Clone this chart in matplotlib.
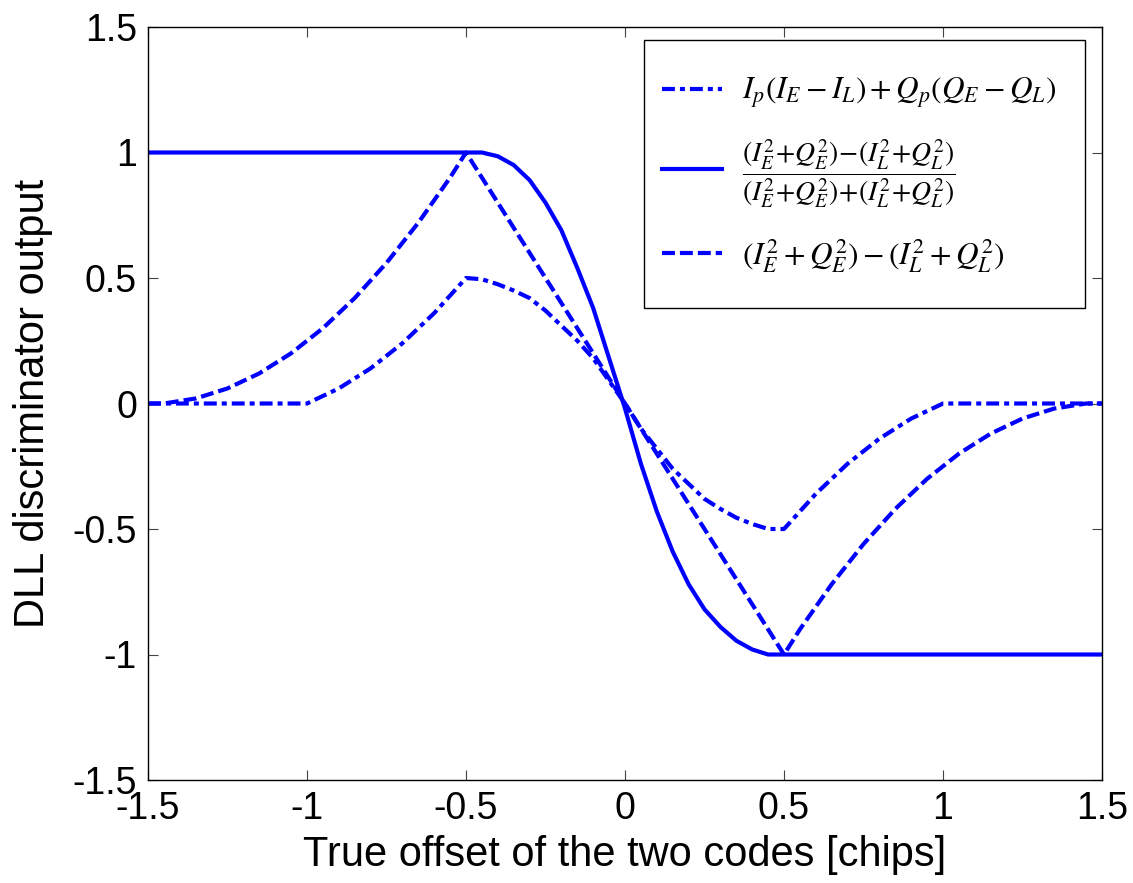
import matplotlib
matplotlib.use("Agg")
import matplotlib.pyplot as plt
from matplotlib.patches import Rectangle

# ---- data ----
x_dotdash = [-1.5, -1.0, -0.95, -0.9, -0.85, -0.8, -0.75, -0.7, -0.65, -0.6, -0.55, -0.5,
             -0.45, -0.4, -0.35, -0.3, -0.25, -0.2, -0.15, -0.1, -0.05, 0.0,
             0.05, 0.1, 0.15, 0.2, 0.25, 0.3, 0.35, 0.4, 0.45, 0.5,
             0.55, 0.6, 0.65, 0.7, 0.75, 0.8, 0.85, 0.9, 0.95, 1.0, 1.5]
y_dotdash = [0.0, 0.0, 0.03, 0.06, 0.10, 0.14, 0.19, 0.24, 0.30, 0.36, 0.43, 0.50,
             0.495, 0.475, 0.45, 0.42, 0.37, 0.31, 0.25, 0.18, 0.09, 0.0,
             -0.10, -0.18, -0.26, -0.32, -0.38, -0.42, -0.455, -0.48, -0.50, -0.50,
             -0.43, -0.36, -0.30, -0.24, -0.19, -0.14, -0.10, -0.06, -0.03, 0.0, 0.0]

x_norm = [-1.5, -0.45, -0.4, -0.35, -0.3, -0.25, -0.2, -0.15, -0.1, -0.05, 0.0,
          0.05, 0.1, 0.15, 0.2, 0.25, 0.3, 0.35, 0.4, 0.45, 1.5]
y_norm = [1.0, 1.0, 0.985, 0.95, 0.89, 0.80, 0.69, 0.54, 0.38, 0.18, -0.02,
          -0.24, -0.43, -0.59, -0.72, -0.82, -0.89, -0.945, -0.98, -1.0, -1.0]

x_power = [-1.5, -1.45, -1.4, -1.35, -1.3, -1.25, -1.2, -1.15, -1.1, -1.05, -1.0,
           -0.95, -0.9, -0.85, -0.8, -0.75, -0.7, -0.65, -0.6, -0.55, -0.5,
           -0.4, -0.3, -0.2, -0.1, 0.0, 0.1, 0.2, 0.3, 0.4, 0.5,
           0.55, 0.6, 0.65, 0.7, 0.75, 0.8, 0.85, 0.9, 0.95, 1.0,
           1.05, 1.1, 1.15, 1.2, 1.25, 1.3, 1.35, 1.4, 1.45, 1.5]
y_power = [0.0, 0.0, 0.01, 0.02, 0.04, 0.06, 0.09, 0.12, 0.16, 0.20, 0.25,
           0.30, 0.36, 0.42, 0.49, 0.56, 0.64, 0.72, 0.81, 0.90, 1.0,
           0.80, 0.60, 0.40, 0.20, 0.0, -0.20, -0.40, -0.60, -0.80, -1.0,
           -0.90, -0.81, -0.72, -0.64, -0.56, -0.49, -0.42, -0.36, -0.30, -0.25,
           -0.20, -0.16, -0.12, -0.09, -0.06, -0.04, -0.02, -0.01, 0.0, 0.0]

labels = [r"$I_p(I_E-I_L)+Q_p(Q_E-Q_L)$",
          r"$\dfrac{(I_E^2\!+\!Q_E^2)\!-\!(I_L^2\!+\!Q_L^2)}{(I_E^2\!+\!Q_E^2)\!+\!(I_L^2\!+\!Q_L^2)}$",
          r"$(I_E^2+Q_E^2)-(I_L^2+Q_L^2)$"]

ticks = [-1.5, -1, -0.5, 0, 0.5, 1, 1.5]
tick_labels = ["-1.5", "-1", "-0.5", "0", "0.5", "1", "1.5"]

# ---- figure ----
plt.rcParams['font.family'] = ['Liberation Sans', 'DejaVu Sans']
plt.rcParams['mathtext.fontset'] = 'stix'
plt.rcParams['axes.unicode_minus'] = False

fig = plt.figure(figsize=(11.33, 8.83), dpi=100)
ax = fig.add_axes([148/1133, 1-780/883, (1102-148)/1133, (780-27)/883])

blue = (0, 0, 1)
lw = 3.0
ax.plot(x_dotdash, y_dotdash, color=blue, lw=lw, dashes=(3.1, 1.2, 1.2, 1.2), label=labels[0])
ax.plot(x_norm, y_norm, color=blue, lw=lw, label=labels[1])
ax.plot(x_power, y_power, color=blue, lw=lw, dashes=(3.1, 1.2), label=labels[2])

ax.set_xlim(-1.5, 1.5)
ax.set_ylim(-1.5, 1.5)
ax.set_xticks(ticks)
ax.set_xticklabels(tick_labels)
ax.set_yticks(ticks)
ax.set_yticklabels(tick_labels)
ax.tick_params(direction='in', length=7, width=0.8, top=True, right=True,
               labelsize=27, pad=8, color='#444444')
for s in ax.spines.values():
    s.set_linewidth(1.0)

ax.set_xlabel("True offset of the two codes [chips]", fontsize=30, labelpad=6)
ax.set_ylabel("DLL discriminator output", fontsize=30, labelpad=14)

# legend frame (drawn separately so its padding can match the reference)
ax.add_patch(Rectangle((0.520, 0.627), 0.462, 0.356, transform=ax.transAxes,
                       facecolor='white', edgecolor='black', lw=1.0, zorder=4))
leg = ax.legend(loc='center left', bbox_to_anchor=(0.539, 0.803), borderaxespad=0,
                borderpad=0, fontsize=22.5, frameon=False,
                handlelength=1.92, handletextpad=0.64, labelspacing=0.85)
leg.set_zorder(5)
leg.get_texts()[1].set_fontsize(20)

fig.savefig("out.png", dpi=100)
